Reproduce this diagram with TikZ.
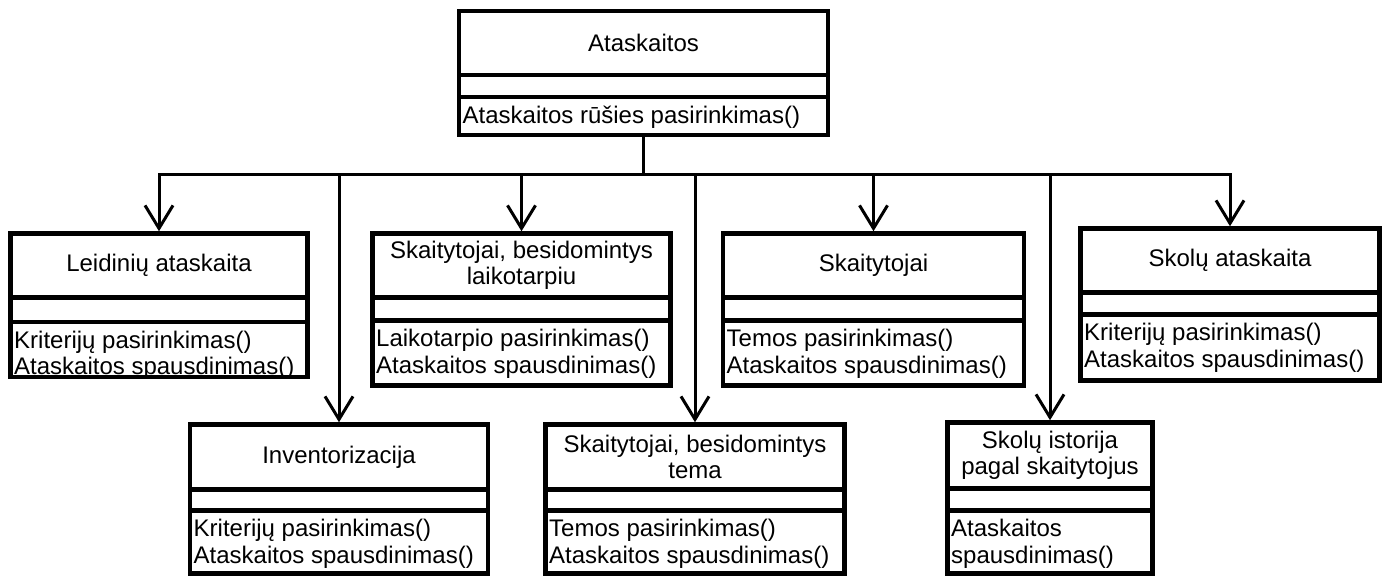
\documentclass[tikz,border=0pt]{standalone}
\usepackage{fontspec}
\setmainfont{Liberation Sans}
\usetikzlibrary{arrows.meta}
\tikzset{
  classbox/.style={draw=black, line width=4.5pt, fill=white, inner sep=0pt},
  divline/.style={draw=black, line width=4.2pt},
  titletext/.style={inner sep=0pt, align=center, font=\fontsize{24}{26.5}\selectfont},
  opstext/.style={inner sep=0pt, align=left, anchor=north west, font=\fontsize{24}{26.5}\selectfont},
  conn/.style={draw=black, line width=3pt, -{Straight Barb[length=23pt,width=28pt,line width=3pt]}},
  plainline/.style={draw=black, line width=3pt}
}
% #1 name, #2 left, #3 top, #4 right, #5 bottom, #6 divider 1, #7 divider 2, #8 title, #9 operations
\newcommand\myclass[9]{%
  \node[classbox, minimum width={(#4-#2)*1pt}, minimum height={(#5-#3)*1pt}] (#1) at ({(#2+#4)/2},{(#3+#5)/2}) {};
  \draw[divline] (#2,#6) -- (#4,#6);
  \draw[divline] (#2,#7) -- (#4,#7);
  \node[titletext] (#1t) at ({(#2+#4)/2},{(#3+#6)/2}) {#8};
  \node[opstext] (#1o) at (#2+3.5,#7+8.5) {#9};
}
\begin{document}
\begin{tikzpicture}[x=1pt,y=-1pt]
\useasboundingbox[fill=white] (0,0) rectangle (1388,576);

\myclass{top}{459}{11}{828}{135}{75}{97}{Ataskaitos}{Ataskaitos rūšies pasirinkimas()}

\myclass{leid}{10.5}{233.5}{307.5}{377}{297.5}{322}{Leidinių ataskaita}{Kriterijų pasirinkimas()\\Ataskaitos spausdinimas()}
\myclass{laik}{372.5}{233.5}{670.5}{385.5}{297.5}{320.5}{Skaitytojai, besidomintys\\laikotarpiu}{Laikotarpio pasirinkimas()\\Ataskaitos spausdinimas()}
\myclass{skait}{723}{233.5}{1024}{385.5}{297.5}{320.5}{Skaitytojai}{Temos pasirinkimas()\\Ataskaitos spausdinimas()}
\myclass{skol}{1080.5}{228.5}{1379.5}{380.5}{292.5}{314.5}{Skolų ataskaita}{Kriterijų pasirinkimas()\\Ataskaitos spausdinimas()}

\myclass{inv}{190}{424.5}{488}{573.5}{489.5}{510.5}{Inventorizacija}{Kriterijų pasirinkimas()\\Ataskaitos spausdinimas()}
\myclass{tema}{545.5}{424.5}{844.5}{573.5}{489.5}{510.5}{Skaitytojai, besidomintys\\tema}{Temos pasirinkimas()\\Ataskaitos spausdinimas()}
\myclass{ist}{947.5}{422.5}{1152.5}{573.5}{488.5}{510.5}{Skolų istorija\\pagal skaitytojus}{Ataskaitos\\spausdinimas()}

\coordinate (bus) at (643.5,174);
\draw[plainline] (top.south) -- (bus);
\draw[conn] (bus) -| (leid.north);
\draw[conn] (bus) -| (inv.north);
\draw[conn] (bus) -| (laik.north);
\draw[conn] (bus) -| (tema.north);
\draw[conn] (bus) -| (skait.north);
\draw[conn] (bus) -| (ist.north);
\draw[conn] (bus) -| (skol.north);
\end{tikzpicture}
\end{document}
